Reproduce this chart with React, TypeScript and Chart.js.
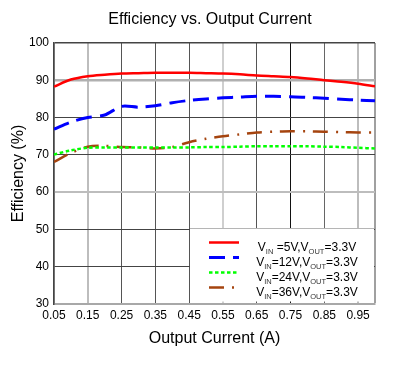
import React, { useEffect, useRef } from 'react';
import { Chart, registerables } from 'chart.js';

Chart.register(...registerables);

// ---- data ----
const currents = [0.05, 0.1, 0.15, 0.2, 0.25, 0.3, 0.35, 0.4, 0.45, 0.5, 0.55, 0.6, 0.65, 0.7, 0.75, 0.8, 0.85, 0.9, 0.95, 1.0];
const effVin5 = [88.3, 90.2, 91.1, 91.5, 91.8, 91.9, 92.0, 92.0, 92.0, 91.9, 91.8, 91.6, 91.3, 91.1, 90.9, 90.5, 90.0, 89.6, 89.1, 88.4];
const effVin12 = [76.9, 78.8, 80.0, 80.7, 83.0, 82.8, 83.2, 84.0, 84.6, 85.0, 85.3, 85.5, 85.7, 85.7, 85.6, 85.4, 85.2, 84.9, 84.7, 84.5];
const effVin24 = [70.1, 71.2, 71.9, 72.0, 72.0, 72.0, 72.0, 72.0, 72.0, 72.1, 72.1, 72.2, 72.3, 72.3, 72.3, 72.3, 72.2, 72.1, 71.9, 71.7];
const effVin36 = [68.1, 70.5, 72.2, 72.4, 72.1, 72.0, 71.7, 72.1, 73.4, 74.3, 75.0, 75.5, 76.0, 76.2, 76.3, 76.3, 76.2, 76.1, 76.0, 76.0];

const xTickValues = [0.05, 0.15, 0.25, 0.35, 0.45, 0.55, 0.65, 0.75, 0.85, 0.95];
const xMax = 1.0;
const yTickValues = [30, 40, 50, 60, 70, 80, 90, 100];

const vinLabels = ['5V', '12V', '24V', '36V'];
const voutLabel = '3.3V';

const titleText = 'Efficiency vs. Output Current';
const xTitle = 'Output Current (A)';
const yTitle = 'Efficiency (%)';

const FONT = "'Liberation Sans', Arial, sans-serif";

const seriesStyles = [
  { color: '#ff0000', width: 2.5, dash: [] as number[] },
  { color: '#0000ff', width: 3, dash: [16, 8] },
  { color: '#00ff00', width: 2.5, dash: [3.5, 2.5] },
  { color: '#a5440f', width: 2.5, dash: [15, 8, 2, 8] },
];

const xGrid: Record<string, [string, number]> = {
  '0.05': ['#444444', 1.5],
  '0.15': ['#bdbdbd', 2],
  '0.25': ['#555555', 1],
  '0.35': ['#555555', 1],
  '0.45': ['#555555', 1],
  '0.55': ['#cfcfcf', 2],
  '0.65': ['#555555', 1],
  '0.75': ['#111111', 1],
  '0.85': ['#666666', 1],
  '0.95': ['#bdbdbd', 2],
  '1.00': ['#a0a0a0', 2],
};
const yGrid: Record<string, [string, number]> = {
  '30': ['#a8a8a8', 2],
  '40': ['#444444', 1],
  '50': ['#444444', 1],
  '60': ['#bdbdbd', 2],
  '70': ['#444444', 1],
  '80': ['#444444', 1],
  '90': ['#b0b0b0', 2.5],
  '100': ['#444444', 1.5],
};

const titlePlugin = {
  id: 'customTitle',
  afterDraw(chart: any) {
    const { ctx } = chart;
    ctx.save();
    ctx.font = `16px ${FONT}`;
    ctx.fillStyle = '#000';
    ctx.textAlign = 'center';
    ctx.textBaseline = 'middle';
    ctx.fillText(titleText, 210, 20);
    ctx.restore();
  },
};

const legendPlugin = {
  id: 'boxLegend',
  afterDraw(chart: any) {
    const { ctx, chartArea } = chart;
    const xs = chart.scales.x;
    const ys = chart.scales.y;
    const left = Math.round(xs.getPixelForValue(0.45)) + 1;
    const top = Math.round(ys.getPixelForValue(50)) - 0.5;
    const right = chartArea.right - 1;
    const bottom = chartArea.bottom - 2;
    ctx.save();
    ctx.fillStyle = '#ffffff';
    ctx.fillRect(left, top - 0.5, right - left, bottom - top);
    ctx.strokeStyle = '#b5b5b5';
    ctx.lineWidth = 1;
    ctx.beginPath();
    ctx.moveTo(left, top);
    ctx.lineTo(right, top);
    ctx.stroke();

    const mainFont = `12px ${FONT}`;
    const subFont = `7.5px ${FONT}`;
    vinLabels.forEach((vin, i) => {
      const st = seriesStyles[i];
      const y = top + 14 + i * 15;
      ctx.strokeStyle = st.color;
      ctx.lineWidth = st.width;
      ctx.setLineDash(st.dash);
      ctx.beginPath();
      ctx.moveTo(left + 19, y);
      ctx.lineTo(left + 49, y);
      ctx.stroke();
      ctx.setLineDash([]);

      const parts: [string, boolean][] = [
        ['V', false],
        ['IN', true],
        [(i === 0 ? ' =' : '=') + vin + ',V', false],
        ['OUT', true],
        ['=' + voutLabel, false],
      ];
      let total = 0;
      parts.forEach(([t, sub]) => {
        ctx.font = sub ? subFont : mainFont;
        total += ctx.measureText(t).width;
      });
      let x = left + 117 - total / 2;
      ctx.textAlign = 'left';
      ctx.textBaseline = 'alphabetic';
      parts.forEach(([t, sub]) => {
        ctx.font = sub ? subFont : mainFont;
        ctx.fillStyle = sub ? '#333' : '#000';
        ctx.fillText(t, x, y + (sub ? 11 : 8));
        x += ctx.measureText(t).width;
      });
    });
    ctx.restore();
  },
};

export default function App() {
  const canvasRef = useRef<HTMLCanvasElement | null>(null);

  useEffect(() => {
    document.body.style.margin = '0';
    const canvas = canvasRef.current;
    if (!canvas) return;
    const series = [effVin5, effVin12, effVin24, effVin36];
    const chart = new Chart(canvas, {
      type: 'line',
      data: {
        datasets: series.map((vals, i) => ({
          label: 'VIN=' + vinLabels[i] + ',VOUT=' + voutLabel,
          data: vals.map((v, j) => ({ x: currents[j], y: v })),
          borderColor: seriesStyles[i].color,
          borderWidth: seriesStyles[i].width,
          borderDash: seriesStyles[i].dash,
          pointRadius: 0,
          tension: 0.3,
          fill: false,
        })),
      },
      options: {
        animation: false,
        responsive: false,
        devicePixelRatio: 1,
        layout: { padding: { left: 0, top: 43, right: 18, bottom: 0 } },
        plugins: {
          legend: { display: false },
          title: { display: false },
          tooltip: { enabled: false },
        },
        scales: {
          x: {
            type: 'linear',
            min: xTickValues[0],
            max: xMax,
            afterBuildTicks: (scale: any) => {
              scale.ticks = [...xTickValues, xMax].map((v) => ({ value: v }));
            },
            afterFit: (scale: any) => {
              scale.height = 61;
            },
            ticks: {
              autoSkip: false,
              maxRotation: 0,
              padding: 4,
              color: '#000',
              font: { family: FONT, size: 12 },
              callback: (v: any) => (Math.abs(Number(v) - xMax) < 1e-6 ? '' : Number(v).toFixed(2)),
            },
            grid: {
              drawTicks: false,
              color: (ctx: any) => (xGrid[Number(ctx.tick?.value ?? 0).toFixed(2)] || ['#555', 1])[0],
              lineWidth: (ctx: any) => (xGrid[Number(ctx.tick?.value ?? 0).toFixed(2)] || ['#555', 1])[1],
            },
            border: { color: '#a8a8a8', width: 2 },
            title: {
              display: true,
              text: xTitle,
              color: '#000',
              font: { family: FONT, size: 16 },
              padding: { top: 0, bottom: 17 },
            },
          },
          y: {
            type: 'linear',
            min: yTickValues[0],
            max: yTickValues[yTickValues.length - 1],
            afterBuildTicks: (scale: any) => {
              scale.ticks = yTickValues.map((v) => ({ value: v }));
            },
            afterFit: (scale: any) => {
              scale.width = 54;
            },
            ticks: {
              padding: 5,
              color: '#000',
              font: { family: FONT, size: 12 },
            },
            grid: {
              drawTicks: false,
              color: (ctx: any) => (yGrid[String(ctx.tick?.value)] || ['#444', 1])[0],
              lineWidth: (ctx: any) => (yGrid[String(ctx.tick?.value)] || ['#444', 1])[1],
            },
            border: { color: '#444444', width: 1.5 },
            title: {
              display: true,
              text: yTitle,
              color: '#000',
              font: { family: FONT, size: 16 },
              padding: { top: 9, bottom: 0 },
            },
          },
        },
      },
      plugins: [titlePlugin, legendPlugin],
    } as any);
    return () => chart.destroy();
  }, []);

  return (
    <div style={{ width: 393, height: 365, background: '#fff' }}>
      <canvas ref={canvasRef} width={393} height={365} style={{ display: 'block' }} />
    </div>
  );
}
